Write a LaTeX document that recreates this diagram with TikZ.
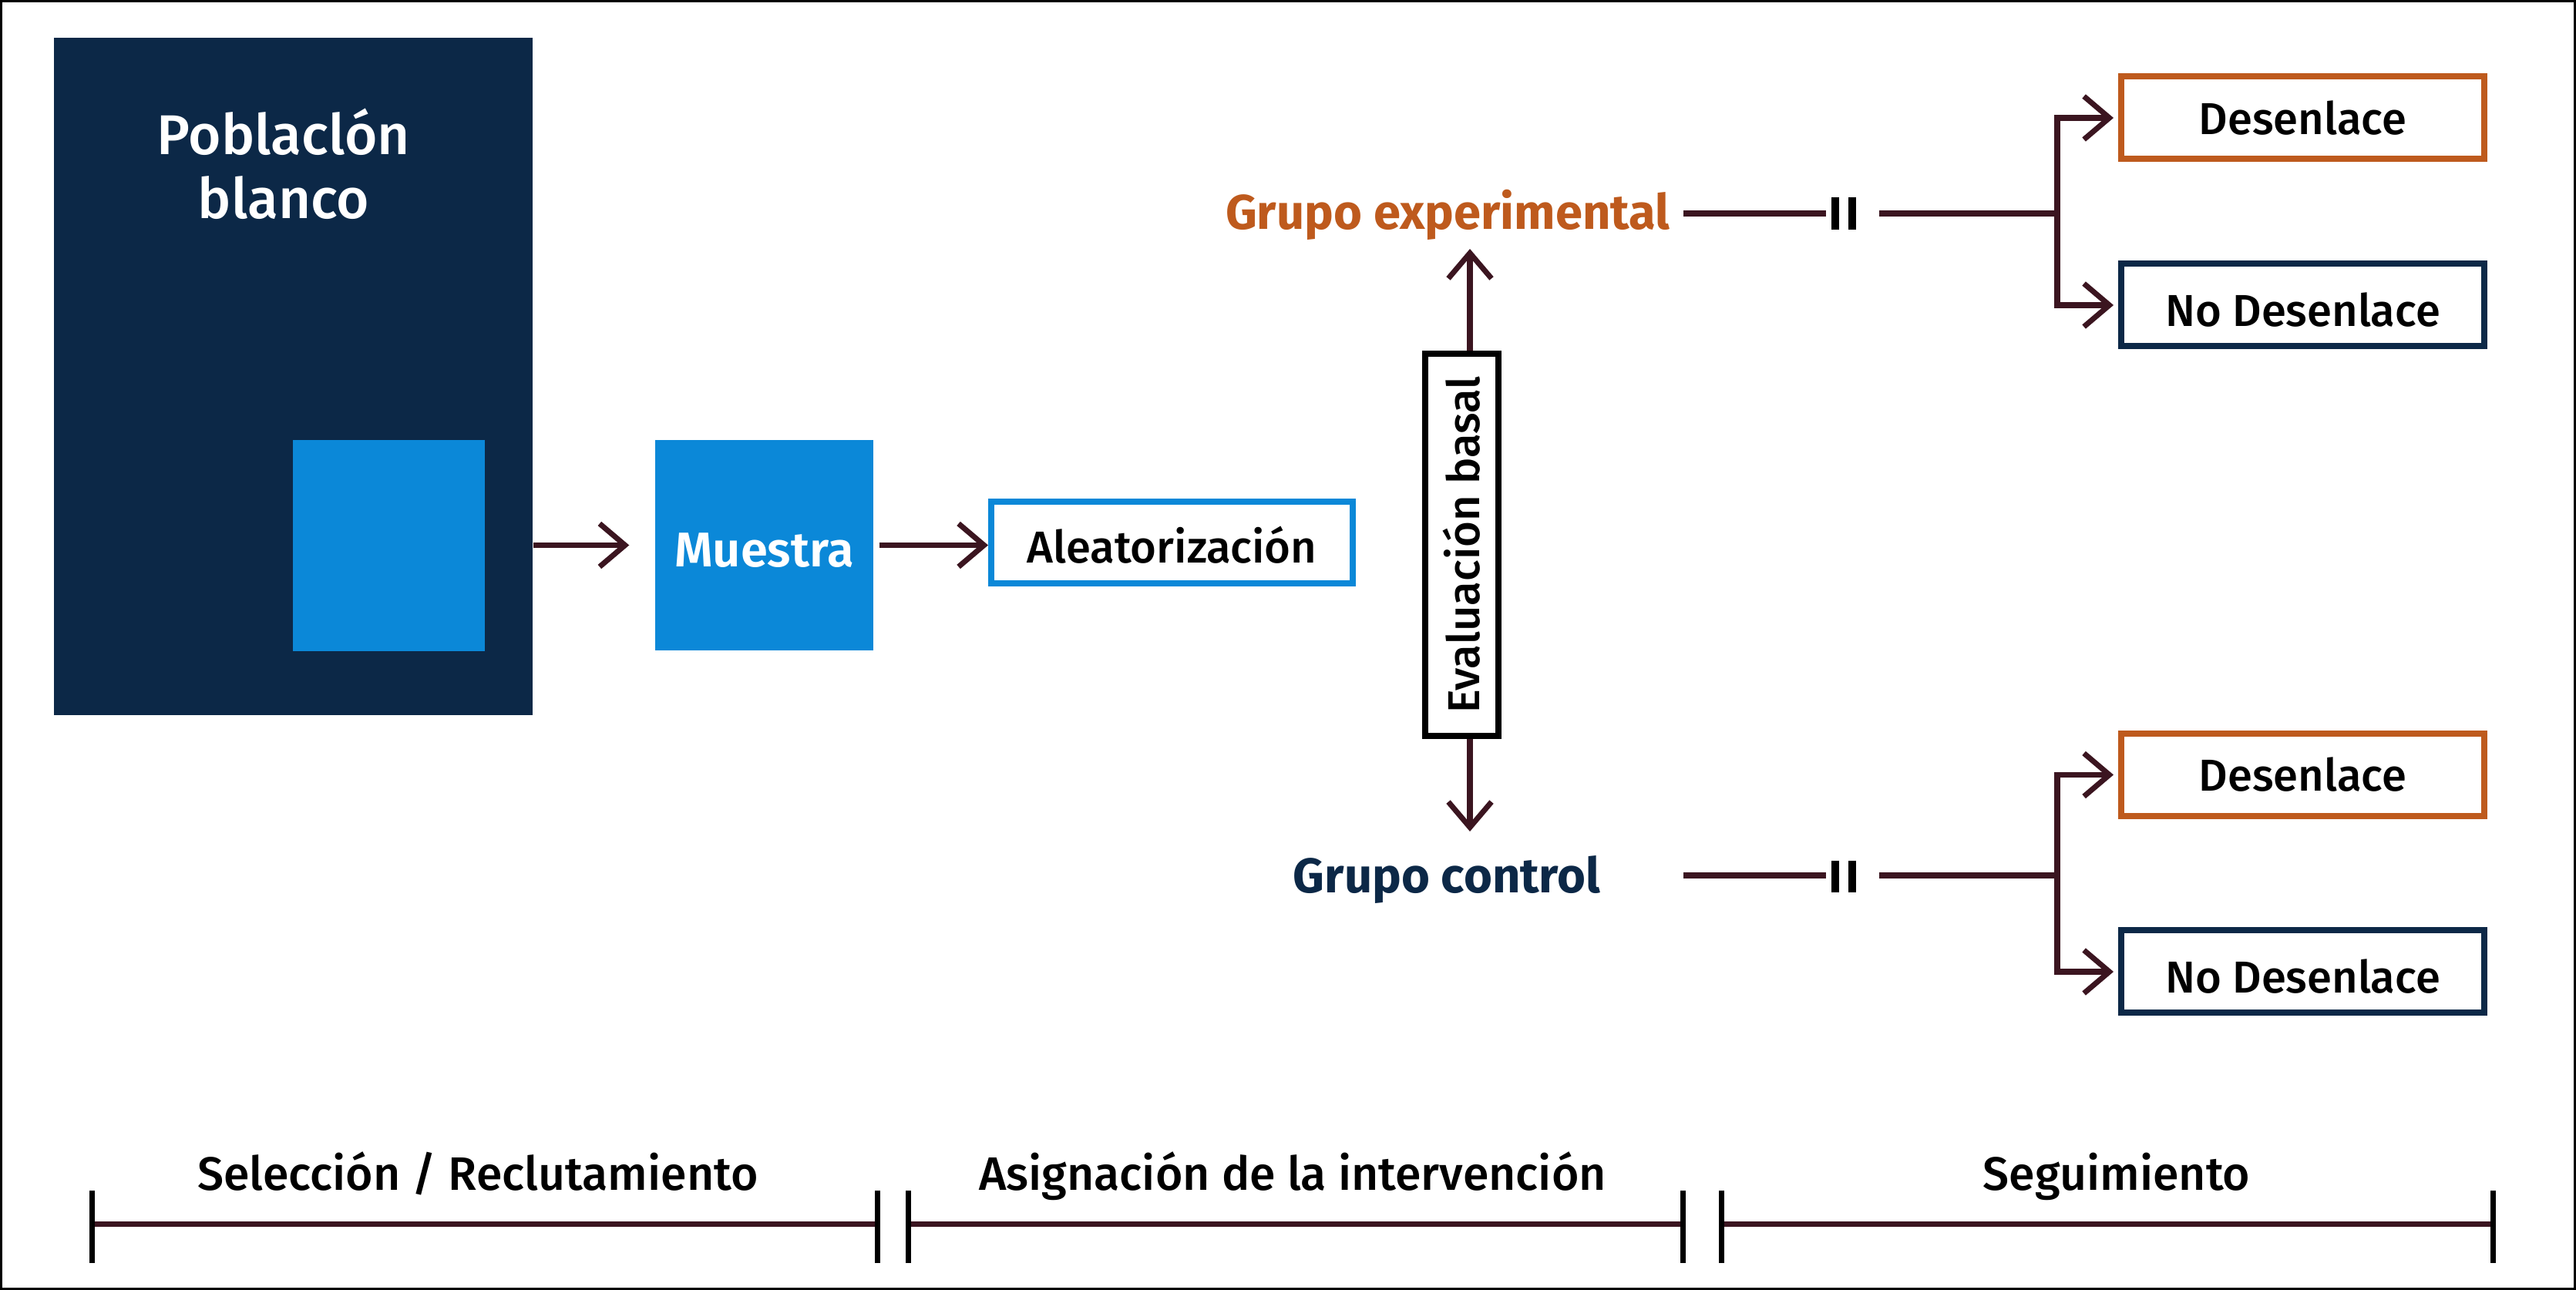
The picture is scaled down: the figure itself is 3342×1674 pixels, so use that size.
\documentclass[tikz,border=0pt]{standalone}
\usepackage{fontspec}
\setmainfont{Fira Sans}[UprightFont={* Medium},BoldFont={* Bold}]
\newfontfamily\semib{Fira Sans SemiBold}
\usetikzlibrary{arrows.meta}
\definecolor{navy}{HTML}{0C2847}
\definecolor{lblue}{HTML}{0B88D8}
\definecolor{orng}{HTML}{BE5A1D}
\definecolor{maroon}{HTML}{3B1520}
\newcommand{\lowertext}[2]{\raisebox{-#1}[\height][\depth]{#2}}
\begin{document}
\begin{tikzpicture}[x=0.1mm,y=-0.1mm,
  conn/.style={draw=maroon,line width=0.75mm},
  arr/.style={conn,-{Straight Barb[length=3.3mm,width=5.6mm,line width=0.7mm]}},
  barstyle/.style={draw=black,line width=1mm},
  tl/.style={draw=maroon,line width=0.7mm},
  tick/.style={draw=black,line width=0.7mm},
  box/.style={draw,line width=0.8mm,fill=white,minimum width=47.1mm,minimum height=10.7mm,inner sep=0pt,font=\fontsize{16.5}{19}\selectfont},
  grp/.style={font=\fontsize{18}{20}\selectfont\bfseries,anchor=base},
  lab/.style={font=\fontsize{17.3}{20}\selectfont,anchor=base},
  poptxt/.style={text=white,font=\fontsize{20.7}{24}\selectfont,anchor=base}]
\useasboundingbox (0,0) rectangle (3342,1674);
\draw[black,line width=0.3mm] (1.5,1.5) rectangle (3340.5,1672.5);

% left part
\node[fill=navy,minimum width=62.1mm,minimum height=87.9mm,inner sep=0pt] (pop) at (380.5,488.5) {};
\node[fill=lblue,minimum width=24.9mm,minimum height=27.4mm,inner sep=0pt] (sub) at (504.5,708) {};
\node[poptxt] (popA) at (368,201) {Poblaclón};
\node[poptxt] (popB) at (368,284) {blanco};
\node[fill=lblue,minimum width=28.3mm,minimum height=27.3mm,inner sep=0pt,text=white,font=\fontsize{18}{20}\semib] (mue) at (991.5,707.5) {\lowertext{0.7mm}{Muestra}};
\node[box,draw=lblue,minimum width=46.9mm,minimum height=10.6mm] (ale) at (1520.5,704) {\lowertext{0.3mm}{Aleatorización}};
\node[box,draw=black,rotate=90,minimum width=49.6mm,minimum height=9.5mm] (eva) at (1896.5,707) {Evaluación basal};

\draw[arr,shorten >=3.3mm] (pop.east |- mue.west) -- (mue.west);
\draw[arr,shorten <=0.7mm] (mue.east) -- (mue.east -| ale.west);

% groups
\node[grp,text=orng] (gexp) at (1878,298) {Grupo experimental};
\node[grp,text=navy] (gctl) at (1877,1159) {Grupo control};
\coordinate (uptip) at (1907,323);
\coordinate (dntip) at (1907,1079);
\draw[arr] (eva.east -| uptip) -- (uptip);
\draw[arr] (eva.west -| dntip) -- (dntip);

% outcome boxes
\node[box,draw=orng] (d1) at (2987.5,153) {Desenlace};
\node[box,draw=navy] (n1) at (2987.5,396) {\lowertext{0.6mm}{No Desenlace}};
\node[box,draw=orng] (d2) at (2987.5,1005.5) {Desenlace};
\node[box,draw=navy] (n2) at (2987.5,1261) {\lowertext{0.6mm}{No Desenlace}};

% upper follow-up line
\coordinate (ea) at (2184,277);
\coordinate (eb) at (2369,277);
\coordinate (ec) at (2438,277);
\coordinate (ej) at (2669,277);
\draw[conn] (ea) -- (eb);
\draw[barstyle] (2381,256) -- (2381,298);
\draw[barstyle] (2403,256) -- (2403,298);
\draw[conn] (ec) -- (ej);
\draw[arr,shorten >=0.6mm] (ej) |- (d1.west);
\draw[arr,shorten >=0.6mm] (ej) |- (n1.west);

% lower follow-up line
\coordinate (ca) at (2184,1136);
\coordinate (cb) at (2369,1136);
\coordinate (cc) at (2438,1136);
\coordinate (cj) at (2669,1136);
\draw[conn] (ca) -- (cb);
\draw[barstyle] (2381,1117) -- (2381,1158);
\draw[barstyle] (2403,1117) -- (2403,1158);
\draw[conn] (cc) -- (cj);
\draw[arr,shorten >=0.6mm] (cj) |- (d2.west);
\draw[arr,shorten >=0.6mm] (cj) |- (n2.west);

% timeline
\coordinate (t1) at (119,1588);
\coordinate (t2) at (1138,1588);
\coordinate (t3) at (1178,1588);
\coordinate (t4) at (2183,1588);
\coordinate (t5) at (2233,1588);
\coordinate (t6) at (3234,1588);
\draw[tl] (t1) -- (t2);
\draw[tl] (t3) -- (t4);
\draw[tl] (t5) -- (t6);
\foreach \xx in {119,1138,1178,2183,2233,3234}
  \draw[tick] (\xx,1545) -- (\xx,1639);
\node[lab] (s1) at (620,1544) {Selección / Reclutamiento};
\node[lab] (s2) at (1677,1544) {Asignación de la intervención};
\node[lab] (s3) at (2746,1544) {Seguimiento};
\end{tikzpicture}
\end{document}
